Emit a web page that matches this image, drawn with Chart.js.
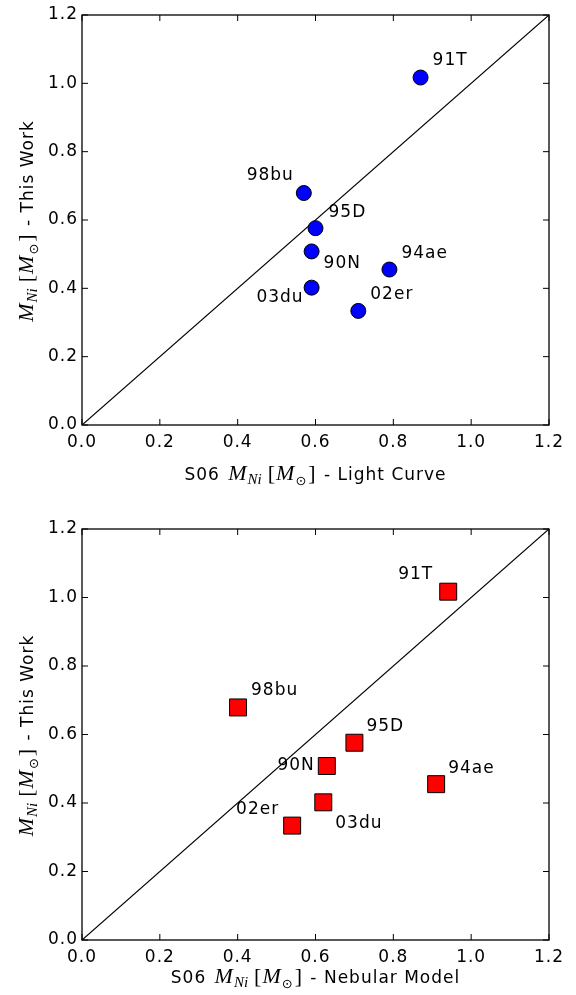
<!DOCTYPE html>
<html>
<head>
<meta charset="utf-8">
<script src="https://cdn.jsdelivr.net/npm/chart.js@4.4.1/dist/chart.umd.min.js"></script>
<style>
body { margin: 0; background: #fff; }
.panel { position: absolute; left: 0; width: 576px; }
</style>
</head>
<body>
<div class="panel" style="top:0;height:497px"><canvas id="lightCurve"></canvas></div>
<div class="panel" style="top:497px;height:498px"><canvas id="nebular"></canvas></div>
<script>
const snNames = ['91T', '98bu', '95D', '90N', '03du', '94ae', '02er'];
const thisWork = [1.017, 0.679, 0.576, 0.508, 0.402, 0.455, 0.334];
const s06LightCurve = [0.870, 0.570, 0.600, 0.590, 0.590, 0.790, 0.710];
const s06Nebular = [0.941, 0.401, 0.700, 0.629, 0.620, 0.910, 0.540];
const tickLabels = ['0.0', '0.2', '0.4', '0.6', '0.8', '1.0', '1.2'];
const oneToOne = [0, 1.2];

const sans = '17px "DejaVu Sans"';
const mathIt = 'italic 22px "Liberation Serif"';
const mathSub = 'italic 15px "Liberation Serif"';
const mathRm = '22px "Liberation Serif"';
const SPACING = '1px';

// [text, font, baseline shift, extra gap after]
function massLabel(prefix, suffix) {
    return [
        [prefix, sans, 0, 2],
        ['M', mathIt, 0, 1],
        ['Ni', mathSub, 4, 6],
        ['[', mathRm, 0, 1],
        ['M', mathIt, 0, 1],
        ['\u2299', '13px "DejaVu Sans"', 5, 2],
        [']', mathRm, 0, 2],
        [suffix, sans, 0, 0]
    ];
}

function drawRich(ctx, segs, cx, cy, rot) {
    const sp = s => (s[1] === sans ? SPACING : '0px');
    let w = 0;
    for (let s of segs) {
        ctx.font = s[1]; ctx.letterSpacing = sp(s);
        w += ctx.measureText(s[0]).width + s[3];
    }
    ctx.save();
    ctx.translate(cx, cy);
    ctx.rotate(rot);
    ctx.textAlign = 'left';
    ctx.textBaseline = 'alphabetic';
    let x = -w / 2;
    for (let s of segs) {
        ctx.font = s[1]; ctx.letterSpacing = sp(s);
        ctx.fillText(s[0], x, 6 + s[2]);
        x += ctx.measureText(s[0]).width + s[3];
    }
    ctx.restore();
}

// frame, inward ticks, point names and axis titles
const framePlugin = {
    id: 'frame',
    beforeDraw(chart) {
        chart.ctx.letterSpacing = SPACING;
    },
    afterDatasetsDraw(chart, args, opts) {
        const ctx = chart.ctx, a = chart.chartArea;
        const sx = chart.scales.x, sy = chart.scales.y;
        ctx.save();
        ctx.strokeStyle = '#000';
        ctx.lineWidth = 1;
        ctx.beginPath();
        for (let t of sx.ticks) {
            const px = sx.getPixelForValue(t.value);
            ctx.moveTo(px, a.bottom); ctx.lineTo(px, a.bottom - 6);
            ctx.moveTo(px, a.top); ctx.lineTo(px, a.top + 6);
        }
        for (let t of sy.ticks) {
            const py = sy.getPixelForValue(t.value);
            ctx.moveTo(a.left, py); ctx.lineTo(a.left + 6, py);
            ctx.moveTo(a.right, py); ctx.lineTo(a.right - 6, py);
        }
        ctx.stroke();
        ctx.lineWidth = 1.3;
        ctx.strokeRect(a.left, a.top, a.right - a.left, a.bottom - a.top);

        const meta = chart.getDatasetMeta(0);
        ctx.font = sans;
        ctx.letterSpacing = SPACING;
        ctx.fillStyle = '#000';
        ctx.textBaseline = 'middle';
        snNames.forEach((name, i) => {
            const el = meta.data[i];
            const o = opts.offsets[i];
            ctx.textAlign = o[0] < 0 ? 'right' : 'left';
            ctx.fillText(name, el.x + o[0], el.y + o[1]);
        });

        drawRich(ctx, opts.xTitle, (a.left + a.right) / 2, a.bottom + opts.xTitleGap, 0);
        drawRich(ctx, opts.yTitle, 27, (a.top + a.bottom) / 2 + 2, -Math.PI / 2);
        ctx.restore();
    }
};

function makeChart(id, xValues, style, color, radius, offsets, xTitle, padTop, xHeight, xTitleGap) {
    const points = xValues.map((x, i) => ({ x: x, y: thisWork[i] }));
    const diag = oneToOne.map(v => ({ x: v, y: v }));
    const axisOpts = {
        type: 'linear',
        min: 0,
        max: 1.2,
        grid: { display: false, drawTicks: false },
        border: { display: false },
        ticks: {
            stepSize: 0.2,
            color: '#000',
            font: { family: 'DejaVu Sans', size: 17 },
            callback: (v, i) => tickLabels[i]
        }
    };
    return new Chart(document.getElementById(id), {
        type: 'scatter',
        data: {
            datasets: [{
                data: points,
                pointStyle: style,
                pointRadius: radius,
                backgroundColor: color,
                borderColor: '#000',
                borderWidth: 1
            }, {
                type: 'line',
                data: diag,
                borderColor: '#000',
                borderWidth: 1.2,
                pointRadius: 0,
                fill: false
            }]
        },
        options: {
            responsive: true,
            maintainAspectRatio: false,
            animation: false,
            events: [],
            layout: { padding: { left: 0, top: padTop, right: 27, bottom: 0 } },
            plugins: {
                legend: { display: false },
                tooltip: { enabled: false },
                frame: {
                    offsets: offsets,
                    xTitle: xTitle,
                    yTitle: massLabel('', ' - This Work'),
                    xTitleGap: xTitleGap
                }
            },
            scales: {
                x: Object.assign({}, axisOpts, {
                    ticks: Object.assign({}, axisOpts.ticks, { padding: 7, maxRotation: 0 }),
                    afterFit: s => { s.height = xHeight; }
                }),
                y: Object.assign({}, axisOpts, {
                    ticks: Object.assign({}, axisOpts.ticks, { padding: 4 }),
                    afterFit: s => { s.width = 82; }
                })
            }
        },
        plugins: [framePlugin]
    });
}

makeChart('lightCurve', s06LightCurve, 'circle', '#0000ff', 7.5,
    [[12, -17], [-10, -17], [13, -16], [12, 12], [-8, 10], [12, -16], [12, -16]],
    massLabel('S06 ', ' - Light Curve'), 15, 72, 49);

makeChart('nebular', s06Nebular, 'rect', '#ff0000', 12,
    [[-15, -17], [13, -17], [12, -16], [-12, 0], [12, 21], [12, -16], [-13, -16]],
    massLabel('S06 ', ' - Nebular Model'), 32, 55, 37);
</script>
</body>
</html>
